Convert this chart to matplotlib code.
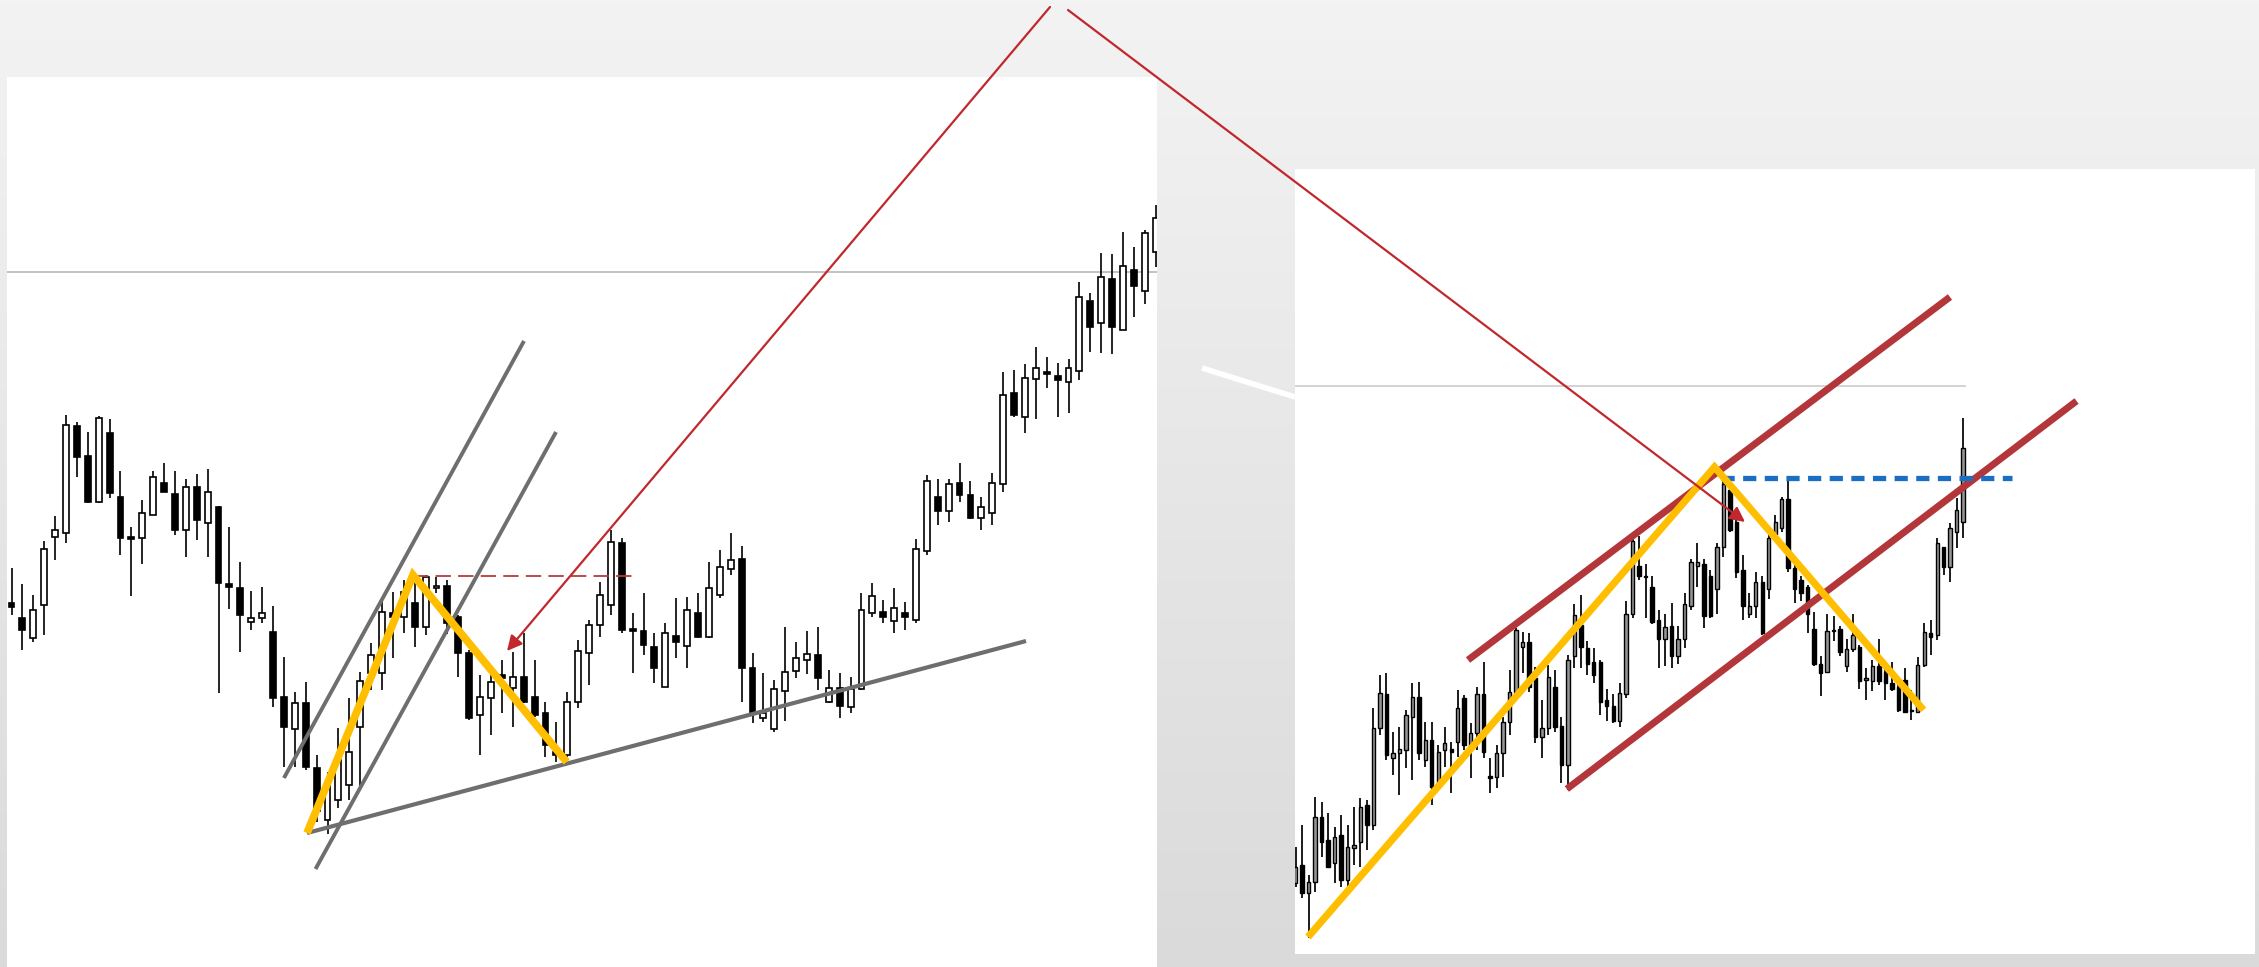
import numpy as np
import matplotlib
matplotlib.use("Agg")
import matplotlib.pyplot as plt
from matplotlib.patches import Rectangle

# ---------------- data: left chart (OHLC, arbitrary price units) ----------------
L_open = [364,349,329,362,430,434,541,511,465,534,
          470,430,429,452,484,473,437,480,444,460,
          383,379,345,349,335,270,238,264,199,147,
          167,182,240,294,294,354,350,364,340,379,
          381,350,314,252,269,292,279,290,270,254,
          215,212,265,314,342,362,424,338,336,320,
          280,331,321,354,330,372,398,408,299,249,
          238,276,296,307,312,265,279,260,278,354,
          355,346,354,347,416,470,456,484,472,449,
          454,483,574,550,588,595,591,585,596,666,
          644,688,637,697,676,715]
L_high = [399,383,372,426,451,552,545,535,551,548,
          496,440,467,496,504,496,488,493,498,461,
          440,405,376,380,361,310,275,285,212,195,
          239,269,295,324,365,375,387,390,392,390,
          387,352,317,292,292,307,315,334,307,265,
          245,275,327,347,385,437,429,354,374,334,
          344,369,370,374,405,417,434,421,314,294,
          287,340,325,336,340,297,294,290,374,384,
          367,379,365,428,492,488,488,504,486,470,
          494,595,597,603,620,610,604,608,685,674,
          714,713,735,720,737,762]
L_low = [352,317,325,332,407,424,490,464,464,469,
         412,371,403,452,475,432,410,427,410,274,
         358,315,337,344,260,200,200,197,145,133,
         159,167,177,277,277,309,334,320,332,374,
         333,290,247,212,232,254,240,264,250,210,
         205,210,259,282,330,352,334,294,312,284,
         280,309,299,329,329,369,392,265,244,245,
         235,246,289,293,277,264,249,254,277,350,
         344,334,337,344,412,442,445,465,448,437,
         442,475,550,534,548,579,550,554,587,615,
         614,613,637,650,663,700]
L_close = [360,337,357,418,437,542,510,465,549,474,
           429,428,454,490,475,437,480,447,475,384,
           380,352,349,354,269,240,264,200,156,182,
           207,215,286,312,355,350,375,340,390,381,
           344,314,249,270,285,289,290,265,252,222,
           212,265,316,342,372,425,337,336,322,299,
           334,325,357,330,379,400,407,299,254,254,
           278,295,309,313,289,279,261,278,357,371,
           350,359,350,418,486,456,483,472,449,460,
           484,572,552,589,599,593,587,599,670,640,
           690,640,701,681,734,749]

# ---------------- data: right chart ----------------
R_open = [84,102,74,85,150,127,104,132,87,119,
          125,162,142,239,273,209,214,217,250,270,
          207,227,180,217,218,225,269,217,234,273,
          191,190,214,245,275,320,325,289,230,239,
          280,241,202,311,342,319,305,305,267,261,
          246,273,353,401,391,380,347,328,341,311,
          328,361,401,403,391,378,420,477,445,397,
          353,361,385,378,433,439,468,399,387,380,
          338,303,295,336,338,301,318,320,287,286,
          301,295,284,280,287,256,255,302,334,332,
          420,400,435,445]
R_high = [120,142,92,170,165,154,140,152,142,160,
          169,167,259,292,294,235,240,257,284,285,
          245,245,222,240,225,277,272,244,280,305,
          209,222,250,297,339,335,334,300,267,302,
          297,250,312,363,372,326,319,307,278,273,
          284,366,433,431,403,391,357,353,364,341,
          374,408,424,408,397,424,489,479,449,412,
          374,395,391,437,452,470,487,403,391,382,
          355,311,353,351,341,328,353,322,299,307,
          328,305,305,284,299,277,310,344,347,429,
          420,444,469,549]
R_low = [80,69,29,75,110,99,84,80,80,102,
         100,117,137,232,207,192,172,199,187,207,
         200,162,177,200,174,210,217,189,217,209,
         174,179,190,232,269,294,275,224,209,232,
         235,184,177,299,299,292,284,252,246,244,
         240,269,349,387,349,343,299,301,299,303,
         319,357,380,339,349,353,410,435,389,347,
         349,349,332,368,428,435,395,364,366,334,
         301,271,294,326,311,295,315,278,267,276,
         282,267,276,255,254,247,254,300,312,327,
         392,385,419,429]
R_close = [100,74,85,150,125,100,130,87,120,122,
           160,142,239,274,212,214,218,252,270,214,
           227,180,215,224,215,259,222,234,273,215,
           189,214,245,275,337,325,280,230,239,290,
           240,202,307,352,320,303,292,265,261,246,
           274,353,426,391,390,345,328,340,311,328,
           363,405,405,351,351,420,483,437,395,361,
           361,385,334,429,445,468,399,378,374,353,
           303,294,336,337,315,318,332,286,289,301,
           286,284,278,257,255,257,302,335,330,424,
           400,439,457,519]

# ---------------- annotations (candle index, price) ----------------
L_CHANNEL_UP_X, L_CHANNEL_UP_Y = [25.0, 47.03], [189, 626]
L_CHANNEL_DN_X, L_CHANNEL_DN_Y = [27.9, 49.97], [98, 535]
L_SUPPORT_X, L_SUPPORT_Y = [27.12, 93.1], [134, 326]
L_ZIGZAG_X, L_ZIGZAG_Y = [27.12, 36.84, 50.95], [134, 392, 205]
L_NECK_X, L_NECK_Y = [36.84, 57.2], [391, 391]
L_REF_LEVEL = 695

R_CH_UP_X, R_CH_UP_Y = [26.59, 100.97], [307, 670]
R_CH_DN_X, R_CH_DN_Y = [41.84, 120.5], [178, 566]
R_ZIGZAG_X, R_ZIGZAG_Y = [1.9, 64.63, 96.88], [30, 500, 257]
R_NECK_X, R_NECK_Y = [65.6, 110.5], [489.5, 489.5]
R_REF_LEVEL, R_REF_END = 581, 103.4

# figure-level callouts (figure pixels)
ARROW_LEFT = ((1050, 7), (507, 651))
ARROW_RIGHT = ((1068, 10), (1745, 522))
WHITE_STROKE = ((1202, 368), (1295, 397))

W, H = 2259, 967
fig = plt.figure(figsize=(W / 100, H / 100), dpi=100)

# background gradient
bg = fig.add_axes([0, 0, 1, 1], zorder=0)
g = np.linspace(0.953, 0.855, 400)
img = np.repeat(g[:, None, None], 3, axis=2)
bg.imshow(img, aspect='auto', extent=[0, 1, 0, 1])
bg.axis('off')


def draw_candles(ax, o, h, l, c, width, up_face, lw_wick, lw_edge, min_h):
    for i, (oo, hh, ll, cc) in enumerate(zip(o, h, l, c)):
        ax.plot([i, i], [ll, hh], color='black', lw=lw_wick, zorder=2,
                solid_capstyle='butt')
        bottom = min(oo, cc)
        height = max(abs(cc - oo), min_h)
        face = up_face if cc >= oo else 'black'
        ax.add_patch(Rectangle((i - width / 2, bottom), width, height,
                               facecolor=face, edgecolor='black', lw=lw_edge, zorder=3))


def clean(ax):
    ax.set_xticks([])
    ax.set_yticks([])
    for s in ax.spines.values():
        s.set_visible(False)
    ax.set_facecolor('white')


# ---------------- left panel ----------------
axL = fig.add_axes([7 / W, 0, 1150 / W, 890 / H], zorder=1)
clean(axL)
axL.set_xlim(-0.413, 105.12)
axL.set_ylim(0, 890)
axL.axhline(L_REF_LEVEL, color='#c2c2c2', lw=1.4, zorder=1)
draw_candles(axL, L_open, L_high, L_low, L_close, 0.54, 'white', 1.2, 1.2, 1.5)
axL.plot(L_CHANNEL_UP_X, L_CHANNEL_UP_Y, color='#6e6e6e', lw=2.8, zorder=4, solid_capstyle='butt')
axL.plot(L_CHANNEL_DN_X, L_CHANNEL_DN_Y, color='#6e6e6e', lw=2.8, zorder=4, solid_capstyle='butt')
axL.plot(L_SUPPORT_X, L_SUPPORT_Y, color='#6e6e6e', lw=3.0, zorder=4, solid_capstyle='butt')
axL.plot(L_NECK_X, L_NECK_Y, color='#b83a3a', lw=1.3, dashes=(8.5, 4), zorder=4)
axL.plot(L_ZIGZAG_X, L_ZIGZAG_Y, color='#FFBF00', lw=5.6, zorder=5,
         solid_joinstyle='miter', solid_capstyle='butt')

# ---------------- right panel ----------------
axR = fig.add_axes([1295 / W, 13 / H, 960 / W, 785 / H], zorder=1)
clean(axR)
axR.set_xlim(-0.108, 148.04)
axR.set_ylim(13, 798)
axR.hlines(R_REF_LEVEL, -0.5, R_REF_END, color='#d0d0d0', lw=1.3, zorder=1)
draw_candles(axR, R_open, R_high, R_low, R_close, 0.52, '#959595', 1.25, 1.0, 1.2)
axR.plot(R_CH_UP_X, R_CH_UP_Y, color='#b3363a', lw=5.0, zorder=4, solid_capstyle='butt')
axR.plot(R_CH_DN_X, R_CH_DN_Y, color='#b3363a', lw=5.0, zorder=4, solid_capstyle='butt')
axR.plot(R_NECK_X, R_NECK_Y, color='#1b6ec2', lw=3.8, dashes=(2.5, 1.6),
         solid_capstyle='butt', dash_capstyle='butt', zorder=5)
axR.plot(R_ZIGZAG_X, R_ZIGZAG_Y, color='#FFBF00', lw=5.2, zorder=6,
         solid_joinstyle='miter', solid_capstyle='butt')

# ---------------- overlay callouts ----------------
ov = fig.add_axes([0, 0, 1, 1], zorder=5)
ov.set_xlim(0, W)
ov.set_ylim(H, 0)
ov.axis('off')
ov.plot([WHITE_STROKE[0][0], WHITE_STROKE[1][0]], [WHITE_STROKE[0][1], WHITE_STROKE[1][1]],
        color='white', lw=4.0, solid_capstyle='butt')
for start, tip in (ARROW_LEFT, ARROW_RIGHT):
    ov.annotate('', xy=tip, xytext=start,
                arrowprops=dict(arrowstyle='-|>,head_length=0.6,head_width=0.3',
                                color='#c0282d', lw=1.6, mutation_scale=15,
                                shrinkA=0, shrinkB=0))

fig.savefig('out.png', dpi=100)
